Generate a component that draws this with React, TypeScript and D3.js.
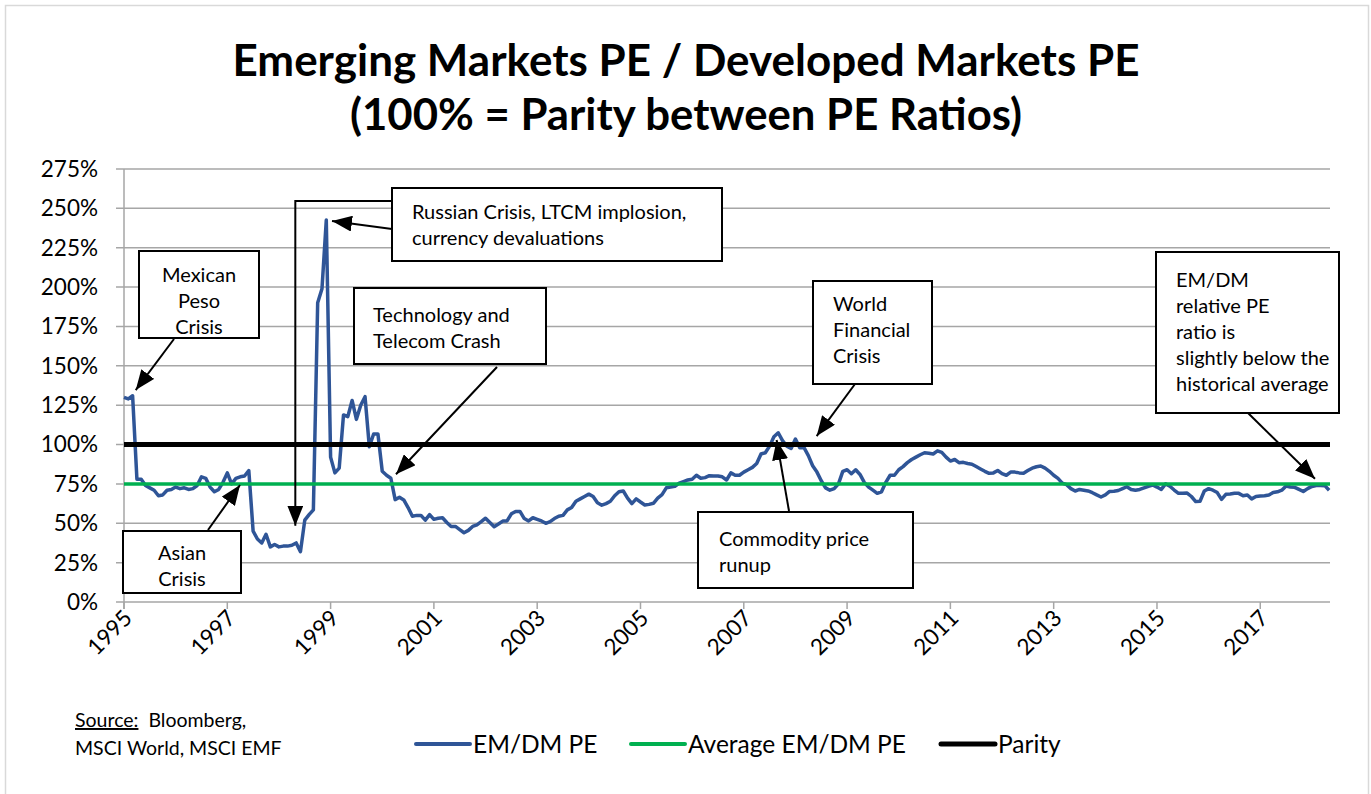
import React from "react";
import * as d3 from "d3";

// EM PE / DM PE in %, monthly, Jan 1995 .. May 2018
const startYear = 1995;
const emDmPe = [
  130, 129, 131, 78, 78, 74, 72.5, 71, 67.5, 68, 71, 71.5, // 1995
  73, 72, 72.5, 71.5, 72, 74, 79.5, 78.5, 73, 70, 71.5, 76, // 1996
  82, 75, 78.5, 79.5, 80, 83.5, 45, 40, 37.5, 43, 35, 36.5, // 1997
  35, 35.5, 35.5, 36, 37.5, 32, 52, 55.5, 58.5, 190, 199, 242.6, // 1998
  92, 82, 85, 118.8, 117.7, 128, 116, 125, 130.4, 98.6, 106.7, 106.7, // 1999
  83, 80.5, 78.6, 65, 66.5, 64.8, 60, 54.5, 55, 55, 52, 55.5, // 2000
  52.5, 53.2, 53.5, 50.5, 48, 48, 46, 44, 45.5, 48, 49, 51, // 2001
  53.2, 50.5, 47.8, 49.5, 51.4, 51.5, 56, 57.5, 57.5, 53, 51.5, 53.5, // 2002
  52.5, 51.5, 50, 51, 53, 54.5, 55, 58.5, 60, 64, 65.5, 67, // 2003
  68.5, 67, 63, 61.5, 62.5, 64, 67.5, 70, 70.5, 66, 62.5, 65.5, // 2004
  63.5, 61.6, 62, 62.7, 66, 68.2, 72.5, 73, 73.5, 75.5, 76.5, 77.5, // 2005
  78, 80.5, 78.6, 79, 80.2, 80, 80, 79.5, 77.5, 82, 80.5, 80.5, // 2006
  82.5, 84, 85.5, 88, 94, 94.8, 99, 105, 107.5, 102.5, 99, 97.5, // 2007
  103.5, 98, 98, 93, 86.5, 82.5, 77, 72.5, 71, 72, 75, 83, // 2008
  84, 81.5, 84, 81, 76, 73, 71, 69, 70, 76, 80.5, 80.5, // 2009
  84, 86, 88.5, 90.5, 92, 93.5, 94.8, 94.5, 94, 96, 95, 92, // 2010
  89.5, 90.5, 88.5, 88.7, 88, 87.5, 86, 84.5, 83, 81.7, 82, 83.5, // 2011
  81.5, 80.5, 82.5, 82.5, 82, 81.8, 83.5, 85, 85.9, 86.4, 85, 83, // 2012
  80.5, 78.5, 75.5, 74.5, 72, 70.5, 71.5, 71, 70.5, 69.4, 68, 66.7, // 2013
  68, 70.2, 70.3, 70.8, 72, 73.2, 71.5, 71, 71.5, 72.5, 73.5, 74.3, // 2014
  73, 71.5, 75, 73.5, 71.1, 69, 69, 69.2, 67, 63.8, 64, 70.5, // 2015
  72, 71, 69.5, 65.2, 68.4, 68.6, 69, 69, 67.5, 68, 65.5, 67, // 2016
  67.3, 67.5, 68, 69.5, 70, 71, 73.7, 73, 72.8, 71.5, 70.2, 72, // 2017
  73.4, 74, 74, 73.9, 71, // 2018
];
const averagePe = 75;
const parity = 100;
const yTicks = [0, 25, 50, 75, 100, 125, 150, 175, 200, 225, 250, 275];
const xTickYears = [1995, 1997, 1999, 2001, 2003, 2005, 2007, 2009, 2011, 2013, 2015, 2017];

const seriesNames = ["EM/DM PE", "Average EM/DM PE", "Parity"];
const seriesColors = ["#2F5597", "#00B050", "#000000"];

const titleLines = ["Emerging Markets PE / Developed Markets PE", "(100% = Parity between PE Ratios)"];

// annotation boxes (pixels) and what they point at (year, %)
const notes = [
  { lines: ["Mexican", "Peso", "Crisis"], box: [139, 251, 120, 87], center: true, tx: 0, base: 282, from: [174, 339], to: [1995.227, 134.6] },
  { lines: ["Asian", "Crisis"], box: [123, 531, 118, 62], center: true, tx: 0, base: 560, from: [208, 530], to: [1997.246, 74.3] },
  { lines: ["Russian Crisis, LTCM implosion,", "currency devaluations"], box: [392, 188, 330, 73], center: false, tx: 412, base: 219, from: [392, 229], to: [1999.027, 242] },
  { lines: ["Technology and", "Telecom Crash"], box: [354, 288, 192, 76], center: false, tx: 373, base: 322, from: [497, 367], to: [2000.266, 81.1] },
  { lines: ["World", "Financial", "Crisis"], box: [813, 281, 119, 103], center: false, tx: 833, base: 311, from: [855, 384], to: [2008.411, 105.4] },
  { lines: ["Commodity price", "runup"], box: [698, 512, 215, 76], center: false, tx: 719, base: 546, from: [789, 511], to: [2007.636, 102.9] },
  { lines: ["EM/DM", "relative PE", "ratio is", "slightly below the", "historical average"], box: [1156, 252, 183, 161], center: false, tx: 1176, base: 287, from: [1248, 413], to: [2018.059, 78.3] },
];
// elbow connector from the Russian box down to the 1998 trough
const elbowStart = [392, 201];
const elbowTo = [1998.317, 48.5];

const font = "Lato, 'Noto Sans', sans-serif";

export default function App() {
  const x = d3.scaleLinear().domain([startYear, 2018.35]).range([124, 1330]);
  const y = d3.scaleLinear().domain([0, 275]).range([602, 169]);
  const pts = emDmPe.map((v, i) => [startYear + i / 12, v]);
  const line = d3
    .line()
    .x((d) => x(d[0]))
    .y((d) => y(d[1]));
  const [x0, x1] = x.range();
  const gridColor = "#A6A6A6";

  return (
    <svg width={1371} height={794} style={{ position: "absolute", left: 0, top: 0, background: "#fff" }} fontFamily={font}>
      <defs>
        <marker id="arr" viewBox="0 0 20 16" refX="20" refY="8" markerWidth="20" markerHeight="16" markerUnits="userSpaceOnUse" orient="auto">
          <path d="M0,0 L20,8 L0,16 z" fill="#000" />
        </marker>
      </defs>
      <rect x={5.5} y={5.5} width={1363} height={800} fill="#fff" stroke="#D9D9D9" strokeWidth={1.5} />

      {titleLines.map((t, i) => (
        <text key={t} x={686} y={76 + i * 54} textAnchor="middle" fontSize={44} fontWeight={700}
          textLength={i === 0 ? 907 : 672} lengthAdjust="spacingAndGlyphs">
          {t}
        </text>
      ))}

      {/* grid */}
      {yTicks.map((t) => (
        <g key={t}>
          <line x1={116} x2={x1} y1={y(t)} y2={y(t)} stroke={gridColor} strokeWidth={1.5} />
          <text x={98} y={y(t)} dy="0.35em" textAnchor="end" fontSize={22.5}>{t}%</text>
        </g>
      ))}
      <line x1={x0} x2={x0} y1={y(275)} y2={609} stroke={gridColor} strokeWidth={1.5} />
      {xTickYears.map((yr) => (
        <g key={yr}>
          <line x1={x(yr)} x2={x(yr)} y1={y(0)} y2={609} stroke={gridColor} strokeWidth={1.5} />
          <text transform={`translate(${x(yr) + 4},${614}) rotate(-45)`} textAnchor="end" dy="0.35em" fontSize={22.5}>
            {yr}
          </text>
        </g>
      ))}

      {/* series */}
      <path d={line(pts) || ""} fill="none" stroke={seriesColors[0]} strokeWidth={3.5} strokeLinejoin="round" />
      <line x1={x0} x2={x1} y1={y(averagePe)} y2={y(averagePe)} stroke={seriesColors[1]} strokeWidth={3.5} />
      <line x1={x0} x2={x1} y1={y(parity)} y2={y(parity)} stroke={seriesColors[2]} strokeWidth={5} />

      {/* annotations */}
      {notes.map((n, i) => (
        <g key={i}>
          <rect x={n.box[0]} y={n.box[1]} width={n.box[2]} height={n.box[3]} fill="#fff" stroke="#000" strokeWidth={2} />
          {n.lines.map((l, j) => (
            <text key={j} x={n.center ? n.box[0] + n.box[2] / 2 : n.tx} y={n.base + j * 26}
              textAnchor={n.center ? "middle" : "start"} fontSize={20}>
              {l}
            </text>
          ))}
          <line x1={n.from[0]} y1={n.from[1]} x2={x(n.to[0])} y2={y(n.to[1])} stroke="#000" strokeWidth={2} markerEnd="url(#arr)" />
        </g>
      ))}
      <polyline
        points={`${elbowStart[0]},${elbowStart[1]} ${x(elbowTo[0])},${elbowStart[1]} ${x(elbowTo[0])},${y(elbowTo[1])}`}
        fill="none" stroke="#000" strokeWidth={2} markerEnd="url(#arr)" />

      {/* source */}
      <text x={75} y={727} fontSize={19.5}>
        <tspan textDecoration="underline">Source:</tspan>
        <tspan>{"\u00a0 Bloomberg,"}</tspan>
      </text>
      <text x={75} y={755} fontSize={19.5}>MSCI World, MSCI EMF</text>

      {/* legend */}
      {seriesNames.map((s, i) => {
        const lx = [416, 631, 941][i];
        return (
          <g key={s}>
            <line x1={lx} x2={lx + 54} y1={744} y2={744} stroke={seriesColors[i]} strokeWidth={i === 2 ? 5 : 4} strokeLinecap="round" />
            <text x={lx + 57} y={744} dy="0.36em" fontSize={24.5}>{s}</text>
          </g>
        );
      })}
    </svg>
  );
}
